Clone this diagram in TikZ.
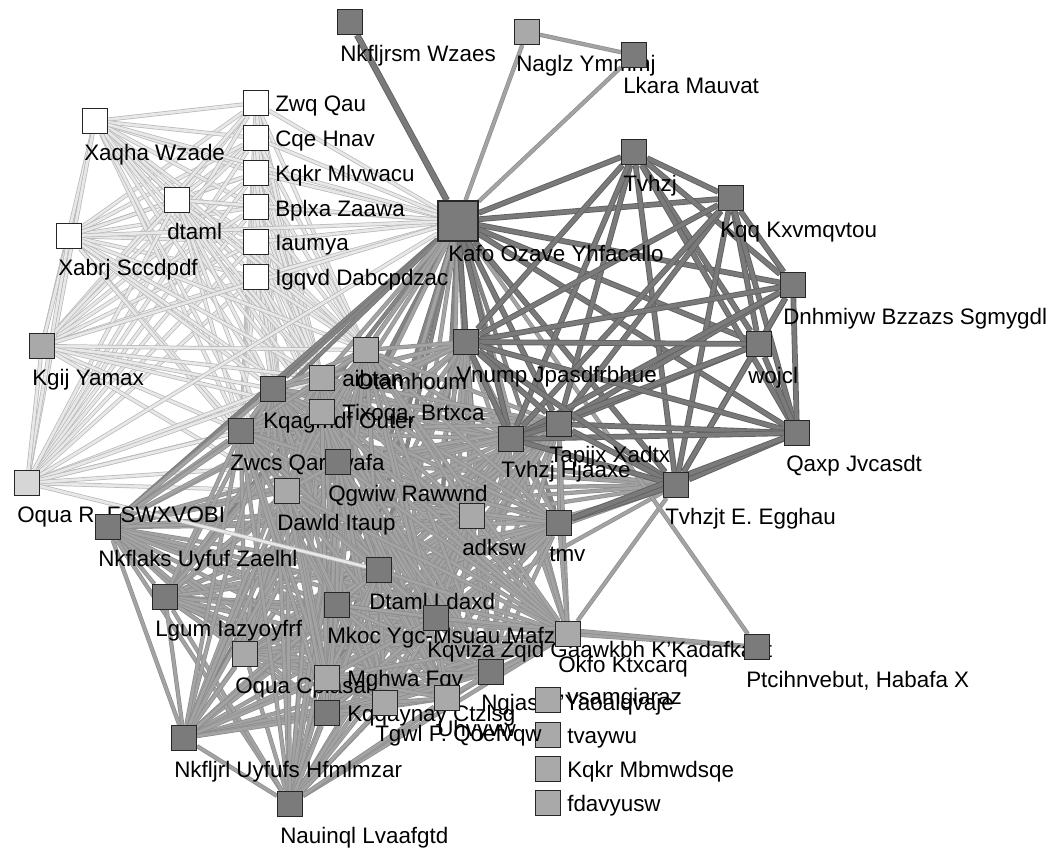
\documentclass[tikz,border=0pt]{standalone}
\usepackage{fontspec}
\setmainfont{Liberation Sans}
\pgfdeclarelayer{edges}
\pgfsetlayers{edges,main}
\definecolor{dkfill}{HTML}{7B7B7B}
\definecolor{mdfill}{HTML}{A9A9A9}
\definecolor{ltfill}{HTML}{D6D6D6}
\definecolor{wtfill}{HTML}{FFFFFF}
\tikzset{
  box/.style={draw=black!85, line width=1.1pt, minimum size=18.5pt, inner sep=0pt, fill=#1},
  bigbox/.style={box=#1, minimum size=30pt},
  lab/.style={anchor=west, inner sep=0pt, text height=0.716em, text depth=0pt,
              font=\fontsize{16.8pt}{18pt}\selectfont},
  le/.style={draw=black!28, double=black!9, double distance=2pt, line width=0.55pt},
  me/.style={draw=black!45, double=black!36, double distance=2.2pt, line width=0.5pt},
  dm/.style={draw=black!55, double=black!48, double distance=2.2pt, line width=0.5pt},
  de/.style={draw=black!62, double=black!52, double distance=3pt, line width=0.65pt},
}
% vertex: name, fill, box x, box y, label x, label y, label text
\newcommand{\vtx}[7]{%
  \node[box=#2] (#1) at (#3,#4) {};
  \node[lab] (#1-l) at (#5,#6) {#7};}
\begin{document}
\begin{tikzpicture}[x=0.75pt, y=-0.75pt]
\useasboundingbox (0,0) rectangle (1055,850);

% ---- vertices ----
\vtx{nkfljrsm}{dkfill}{350}{22}{340}{57}{Nkfljrsm Wzaes}
\vtx{naglz}{mdfill}{527}{32}{516}{67}{Naglz Ymmmj}
\vtx{lkara}{dkfill}{634}{55}{623}{89}{Lkara Mauvat}
\vtx{zwq}{wtfill}{256}{103}{275}{107}{Zwq Qau}
\vtx{cqe}{wtfill}{256}{138}{275}{142}{Cqe Hnav}
\vtx{kqkrm}{wtfill}{256}{173}{275}{177}{Kqkr Mlvwacu}
\vtx{bplxa}{wtfill}{256}{207}{275}{212}{Bplxa Zaawa}
\vtx{iaumya}{wtfill}{256}{242}{275}{246}{Iaumya}
\vtx{igqvd}{wtfill}{256}{277}{275}{281}{Igqvd Dabcpdzac}
\vtx{xaqha}{wtfill}{95}{121}{84}{156}{Xaqha Wzade}
\vtx{dtaml}{wtfill}{177}{200}{167}{235}{dtaml}
\vtx{xabrj}{wtfill}{69}{236}{58}{271}{Xabrj Sccdpdf}
\node[bigbox=dkfill] (kafo) at (458,221) {};
\node[lab] (kafo-l) at (448,257) {Kafo Ozave Yhfacallo};
\vtx{tvhzj}{dkfill}{634}{152}{623}{187}{Tvhzj}
\vtx{kqq}{dkfill}{731}{198}{720}{233}{Kqq Kxvmqvtou}
\vtx{dnhm}{dkfill}{793}{285}{783}{320}{Dnhmiyw Bzzazs Sgmygdl}
\vtx{wojcl}{dkfill}{759}{344}{748}{379}{wojcl}
\vtx{qaxp}{dkfill}{797}{433}{786}{467}{Qaxp Jvcasdt}
\vtx{tvhzjt}{dkfill}{676}{485}{665}{520}{Tvhzjt E. Egghau}
\vtx{kgij}{mdfill}{42}{346}{32}{381}{Kgij Yamax}
\vtx{oquar}{ltfill}{27}{483}{17}{518}{Oqua R. FSWXVOBI}
\vtx{nkflaks}{dkfill}{108}{527}{98}{562}{Nkflaks Uyfuf Zaelhl}
\vtx{lgum}{dkfill}{165}{597}{155}{632}{Lgum Iazyoyfrf}
\vtx{oquac}{mdfill}{245}{654}{235}{689}{Oqua Cplasal}
\vtx{nkfljrl}{dkfill}{184}{738}{174}{773}{Nkfljrl Uyfufs Hfmlmzar}
\vtx{nauinql}{dkfill}{290}{804}{280}{839}{Nauinql Lvaafgtd}
\vtx{kqagm}{dkfill}{273}{389}{263}{424}{Kqagmdf Outer}
\vtx{zwcs}{dkfill}{241}{431}{230}{466}{Zwcs Qarvwafa}
\vtx{aibtan}{mdfill}{322}{378}{342}{382}{aibtan}
\vtx{otam}{mdfill}{366}{350}{356}{385}{Otamhoum}
\vtx{tixoqa}{mdfill}{322}{412}{342}{416}{Tixoqa, Brtxca}
\vtx{qgwiw}{dkfill}{338}{462}{328}{497}{Qgwiw Rawwnd}
\vtx{dawld}{mdfill}{287}{491}{277}{526}{Dawld Itaup}
\vtx{vnump}{dkfill}{466}{342}{456}{378}{Vnump Jpasdfrbhue}
\vtx{tapjjx}{dkfill}{559}{424}{549}{458}{Tapjjx Xadtx}
\vtx{tvhzjh}{dkfill}{511}{439}{501}{473}{Tvhzj Hjaaxe}
\vtx{adksw}{mdfill}{472}{516}{462}{551}{adksw}
\vtx{tmv}{dkfill}{559}{523}{549}{557}{tmv}
\vtx{dtamll}{dkfill}{379}{570}{369}{605}{Dtaml Ldaxd}
\vtx{mkoc}{dkfill}{337}{605}{327}{639}{Mkoc Ygc-Msuau Mafz}
\vtx{kqviza}{dkfill}{436}{618}{427}{653}{Kqviza Zqid Gaawkbh K'Kadafkant}
\vtx{okfo}{mdfill}{568}{634}{558}{668}{Okfo Ktxcarq}
\vtx{ngjas}{dkfill}{491}{672}{481}{706}{Ngjas V'Yaoalqvaje}
\vtx{vsamg}{mdfill}{548}{700}{567}{700}{vsamgiaraz}
\vtx{tvaywu}{mdfill}{548}{735}{567}{739}{tvaywu}
\vtx{kqkrb}{mdfill}{548}{769}{567}{773}{Kqkr Mbmwdsqe}
\vtx{fdavy}{mdfill}{548}{803}{567}{807}{fdavyusw}
\vtx{mghwa}{mdfill}{327}{678}{347}{682}{Mghwa Fqv}
\vtx{kqqay}{dkfill}{327}{713}{347}{717}{Kqqaynay Ctzlsg}
\vtx{tgwl}{mdfill}{385}{703}{375}{737}{Tgwl P. Qoefvqw}
\vtx{uhvy}{mdfill}{447}{698}{437}{732}{Uhvyvw}
\vtx{ptc}{dkfill}{757}{647}{746}{683}{Ptcihnvebut, Habafa X}

% ---- connectors ----
\def\Wlist{zwq,cqe,kqkrm,bplxa,iaumya,igqvd,xaqha,dtaml,xabrj}
\def\Tlist{kafo,kgij,oquar,kqagm,zwcs,aibtan,otam,tixoqa,dawld}
\def\Mlist{vnump,tvhzjh,tapjjx,tmv,adksw,nkflaks,lgum,oquac,nkfljrl,nauinql,kqagm,zwcs,aibtan,otam,tixoqa,qgwiw,dawld,dtamll,mkoc,kqviza,okfo,ngjas,mghwa,kqqay,tgwl,uhvy}
\def\Dlist{kafo,tvhzj,kqq,dnhm,wojcl,qaxp,tvhzjt,vnump,tapjjx,tvhzjh}

\begin{pgfonlayer}{edges}
  % light group
  \foreach \a [count=\i] in \Wlist {
    \foreach \b [count=\j] in \Wlist {
      \ifnum\j>\i\relax \draw[le] (\a) -- (\b); \fi
    }
  }
  \foreach \a in \Wlist {
    \foreach \b in \Tlist { \draw[le] (\a) -- (\b); }
  }
  \foreach \a/\b in {kgij/oquar,kgij/kqagm,kgij/zwcs,kgij/aibtan,kgij/otam,kgij/tixoqa,
      kgij/dawld,kgij/kafo,oquar/kafo,oquar/kqagm,oquar/zwcs,oquar/aibtan,oquar/tixoqa,
      oquar/dawld,oquar/qgwiw}
    { \draw[le] (\a) -- (\b); }

  % hub edges into the lower group
  \foreach \b in {nkflaks,lgum,nkfljrl,nauinql,kqagm,zwcs,qgwiw,dtamll,mkoc,kqviza,ngjas,kqqay,tmv}
    { \draw[dm] (kafo) -- (\b); }
  \foreach \b in {oquac,aibtan,otam,tixoqa,dawld,adksw,okfo,mghwa,tgwl,uhvy}
    { \draw[me] (kafo) -- (\b); }
  \foreach \b in {tmv,adksw,okfo,kqviza,dtamll,dawld,qgwiw,nkflaks,zwcs,mkoc}
    { \draw[me] (tvhzjt) -- (\b); }

  % lower group
  \foreach \a [count=\i] in \Mlist {
    \foreach \b [count=\j] in \Mlist {
      \ifnum\j>\i\relax \draw[me] (\a) -- (\b); \fi
    }
  }
  \draw[le] (oquar) -- (dtamll);

  % outliers
  \foreach \a/\b in {kafo/naglz,kafo/lkara,naglz/lkara,kafo/ptc,okfo/ptc,kqviza/ptc}
    { \draw[me] (\a) -- (\b); }

  % dark core
  \foreach \a [count=\i] in \Dlist {
    \foreach \b [count=\j] in \Dlist {
      \ifnum\j>\i\relax \draw[de] (\a) -- (\b); \fi
    }
  }
  \draw[de] (tmv) -- (tvhzjt);
  \draw[de] (tmv) -- (qaxp);
  \draw[de, double distance=3.6pt] (kafo) -- (nkfljrsm);
\end{pgfonlayer}
\end{tikzpicture}
\end{document}
